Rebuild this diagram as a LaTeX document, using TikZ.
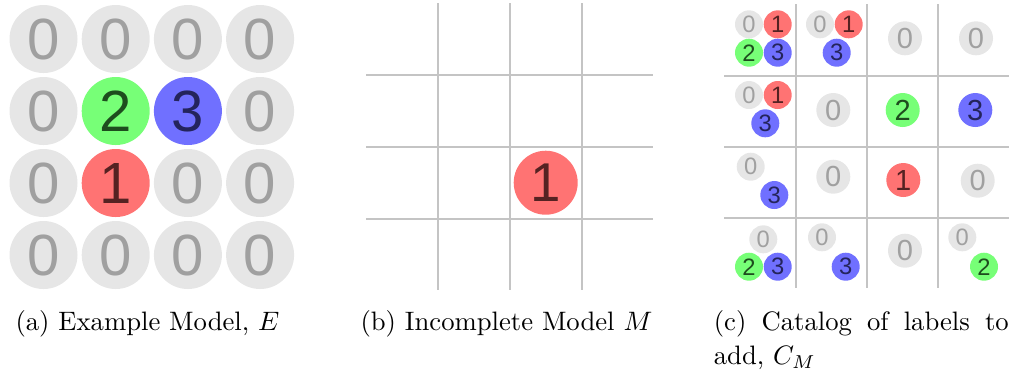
\documentclass[tikz,border=0pt]{standalone}
\usepackage{fontspec}
\newfontfamily\digitfont{Liberation Sans}
\definecolor{greyfill}{HTML}{E6E6E6}
\definecolor{greytext}{HTML}{A0A0A0}
\definecolor{redfill}{HTML}{FF7373}
\definecolor{redtext}{HTML}{552222}
\definecolor{greenfill}{HTML}{77FF77}
\definecolor{greentext}{HTML}{1E4D1E}
\definecolor{bluefill}{HTML}{7070FF}
\definecolor{bluetext}{HTML}{24245C}
\definecolor{gridline}{HTML}{C4C4C4}
\tikzset{
  lab/.style={circle, inner sep=0pt},
  lab0/.style={lab, fill=greyfill, text=greytext},
  lab1/.style={lab, fill=redfill, text=redtext},
  lab2/.style={lab, fill=greenfill, text=greentext},
  lab3/.style={lab, fill=bluefill, text=bluetext},
  sizeA/.style={minimum size=68*0.375pt, font={\digitfont\fontsize{21.8}{22}\selectfont}},
  sizeB/.style={minimum size=64*0.375pt, font={\digitfont\fontsize{20.5}{21}\selectfont}},
  sizeL/.style={minimum size=34*0.375pt, font={\digitfont\fontsize{10.9}{11}\selectfont}},
  sizeS/.style={minimum size=28*0.375pt, font={\digitfont\fontsize{8.9}{9}\selectfont}},
  gridrule/.style={draw=gridline, line width=0.75pt},
  capt/.style={anchor=base west, inner sep=0pt, font={\fontsize{10}{13.1}\selectfont}}
}
\begin{document}
\begin{tikzpicture}[x=0.375pt, y=-0.375pt]
\useasboundingbox (0,0) rectangle (1015,371);
% (a) Example model
\foreach \v [count=\k from 0] in {0,0,0,0, 0,2,3,0, 0,1,0,0, 0,0,0,0} {
  \pgfmathtruncatemacro\col{mod(\k,4)}
  \pgfmathtruncatemacro\row{div(\k,4)}
  \node[lab\v, sizeA] (a\k) at ({43.5+72.2*\col},{39+72*\row}) {\v};
}
% (b) Incomplete model
\foreach \x in {437.7, 509.7, 581.5} { \draw[gridrule] (\x,3.3) -- (\x,290); }
\foreach \y in {75, 147, 219} { \draw[gridrule] (366,\y) -- (653,\y); }
\node[lab1, sizeB] (b1) at (545.7,182.7) {1};
% (c) Catalog
\foreach \x in {796, 867, 938.3} { \draw[gridrule] (\x,4) -- (\x,288); }
\foreach \y in {75.7, 146.7, 218.3} { \draw[gridrule] (724,\y) -- (1009,\y); }
% row 0
\node[lab0, sizeS] (c00a) at (749,24.3) {0};
\node[lab1, sizeS] (c00b) at (777.7,24.3) {1};
\node[lab2, sizeS] (c00c) at (749,52.7) {2};
\node[lab3, sizeS] (c00d) at (777.7,52.7) {3};
\node[lab0, sizeS] (c10a) at (820,24.3) {0};
\node[lab1, sizeS] (c10b) at (848.7,24.3) {1};
\node[lab3, sizeS] (c10c) at (836.7,52.7) {3};
\node[lab0, sizeL] (c20) at (905,38.3) {0};
\node[lab0, sizeL] (c30) at (976,38.3) {0};
% row 1
\node[lab0, sizeS] (c01a) at (749,95) {0};
\node[lab1, sizeS] (c01b) at (777.7,95) {1};
\node[lab3, sizeS] (c01c) at (765.3,123.3) {3};
\node[lab0, sizeL] (c11) at (833.3,110) {0};
\node[lab2, sizeL] (c21) at (902.7,110) {2};
\node[lab3, sizeL] (c31) at (975.3,110) {3};
% row 2
\node[lab0, sizeS] (c02a) at (750.7,166.7) {0};
\node[lab3, sizeS] (c02b) at (774.3,195) {3};
\node[lab0, sizeL] (c12) at (833.3,176.7) {0};
\node[lab1, sizeL] (c22) at (903.3,180) {1};
\node[lab0, sizeL] (c32) at (977.7,180.7) {0};
% row 3
\node[lab0, sizeS] (c03a) at (763.3,239.3) {0};
\node[lab2, sizeS] (c03b) at (749,266.7) {2};
\node[lab3, sizeS] (c03c) at (777.7,266.7) {3};
\node[lab0, sizeS] (c13a) at (822,237.3) {0};
\node[lab3, sizeS] (c13b) at (845.7,266.7) {3};
\node[lab0, sizeL] (c23) at (905,250.7) {0};
\node[lab0, sizeS] (c33a) at (962.3,237.3) {0};
\node[lab2, sizeS] (c33b) at (984,266.7) {2};
% captions
\node[capt] (capa) at (15,330) {(a) Example Model, $E$};
\node[capt] (capb) at (360,330) {(b) Incomplete Model $M$};
\node[capt, text width=110.6pt, align=justify] (capc) at (713.3,330) {(c) Catalog of labels to add, $C_M$};
\end{tikzpicture}
\end{document}
